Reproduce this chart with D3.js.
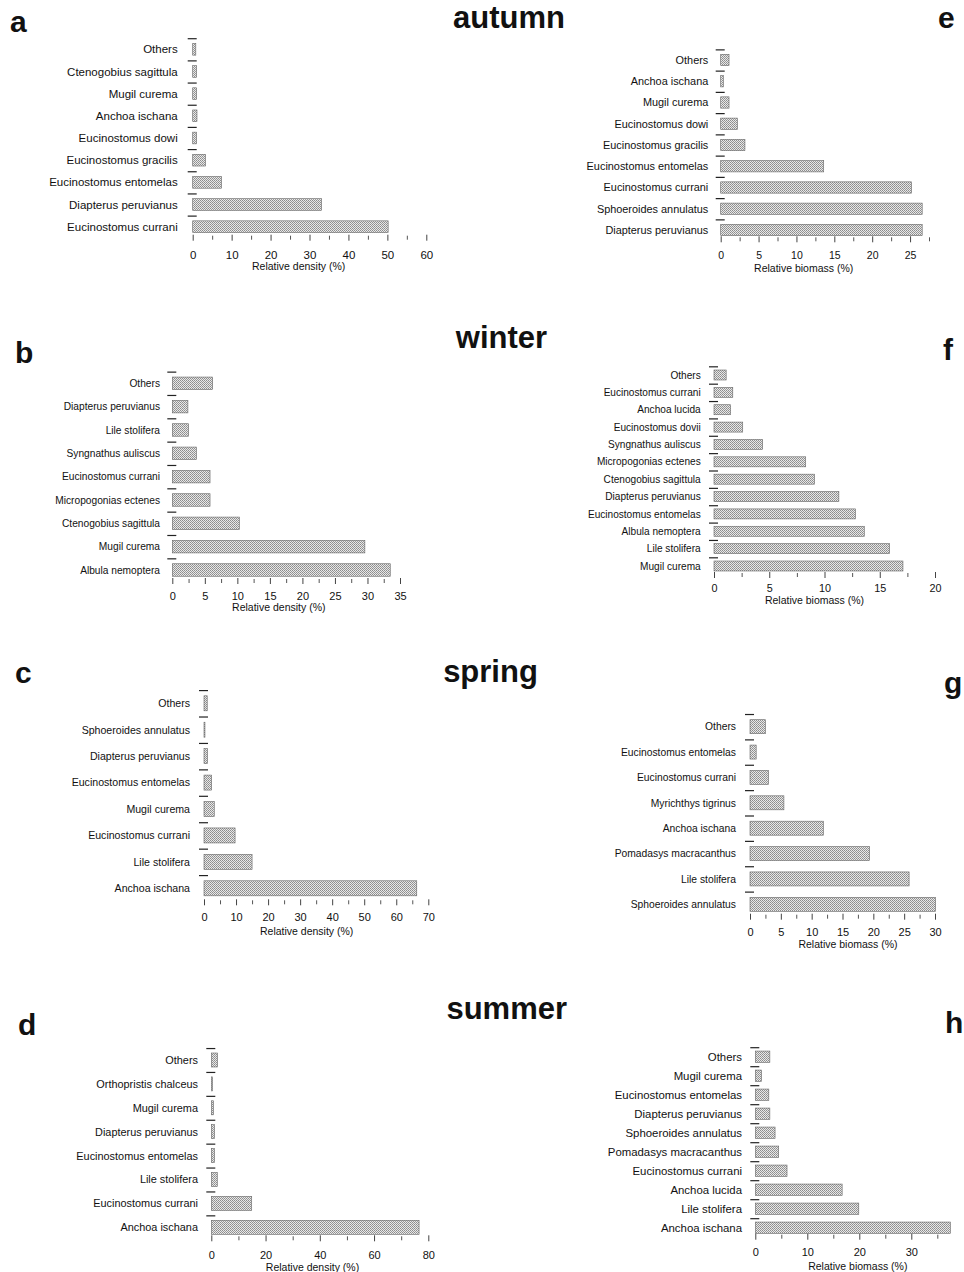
<!DOCTYPE html>
<html>
<head>
<meta charset="utf-8">
<script src="https://cdn.jsdelivr.net/npm/d3@7/dist/d3.min.js"></script>
<style>
  html, body { margin: 0; padding: 0; background: #fff; }
  svg { display: block; font-family: "Liberation Sans", Arial, sans-serif; }
</style>
</head>
<body>
<svg id="chart" width="964" height="1272"></svg>
<script>
// ---------- DATA ----------
// autumn density (a)
const catsA = ["Others","Ctenogobius sagittula","Mugil curema","Anchoa ischana","Eucinostomus dowi","Eucinostomus gracilis","Eucinostomus entomelas","Diapterus peruvianus","Eucinostomus currani"];
const valsA = [0.8, 1.0, 1.0, 1.1, 1.0, 3.3, 7.4, 33.1, 50.2];
const ticksA = [0, 10, 20, 30, 40, 50, 60];
// autumn biomass (e)
const catsE = ["Others","Anchoa ischana","Mugil curema","Eucinostomus dowi","Eucinostomus gracilis","Eucinostomus entomelas","Eucinostomus currani","Sphoeroides annulatus","Diapterus peruvianus"];
const valsE = [1.1, 0.35, 1.1, 2.2, 3.2, 13.6, 25.2, 26.6, 26.6];
const ticksE = [0, 5, 10, 15, 20, 25];
// winter density (b)
const catsB = ["Others","Diapterus peruvianus","Lile stolifera","Syngnathus auliscus","Eucinostomus currani","Micropogonias ectenes","Ctenogobius sagittula","Mugil curema","Albula nemoptera"];
const valsB = [6.2, 2.4, 2.5, 3.7, 5.8, 5.8, 10.3, 29.6, 33.5];
const ticksB = [0, 5, 10, 15, 20, 25, 30, 35];
// winter biomass (f)
const catsF = ["Others","Eucinostomus currani","Anchoa lucida","Eucinostomus dovii","Syngnathus auliscus","Micropogonias ectenes","Ctenogobius sagittula","Diapterus peruvianus","Eucinostomus entomelas","Albula nemoptera","Lile stolifera","Mugil curema"];
const valsF = [1.1, 1.7, 1.5, 2.6, 4.4, 8.3, 9.1, 11.3, 12.8, 13.6, 15.9, 17.1];
const ticksF = [0, 5, 10, 15, 20];
// spring density (c)
const catsC = ["Others","Sphoeroides annulatus","Diapterus peruvianus","Eucinostomus entomelas","Mugil curema","Eucinostomus currani","Lile stolifera","Anchoa ischana"];
const valsC = [1.0, 0.3, 1.1, 2.4, 3.2, 9.7, 15.0, 66.4];
const ticksC = [0, 10, 20, 30, 40, 50, 60, 70];
// spring biomass (g)
const catsG = ["Others","Eucinostomus entomelas","Eucinostomus currani","Myrichthys tigrinus","Anchoa ischana","Pomadasys macracanthus","Lile stolifera","Sphoeroides annulatus"];
const valsG = [2.5, 1.0, 3.0, 5.5, 11.9, 19.4, 25.8, 30.1];
const ticksG = [0, 5, 10, 15, 20, 25, 30];
// summer density (d)
const catsD = ["Others","Orthopristis chalceus","Mugil curema","Diapterus peruvianus","Eucinostomus entomelas","Lile stolifera","Eucinostomus currani","Anchoa ischana"];
const valsD = [2.3, 0.4, 0.8, 1.2, 1.2, 2.2, 14.9, 76.6];
const ticksD = [0, 20, 40, 60, 80];
// summer biomass (h)
const catsH = ["Others","Mugil curema","Eucinostomus entomelas","Diapterus peruvianus","Sphoeroides annulatus","Pomadasys macracanthus","Eucinostomus currani","Anchoa lucida","Lile stolifera","Anchoa ischana"];
const valsH = [2.8, 1.2, 2.6, 2.8, 3.8, 4.5, 6.1, 16.7, 19.9, 37.5];
const ticksH = [0, 10, 20, 30];

const seasons = ["autumn", "winter", "spring", "summer"];
const letters = ["a","b","c","d","e","f","g","h"];
const densityTitle = "Relative density (%)";
const biomassTitle = "Relative biomass (%)";

// ---------- LAYOUT ----------
const panels = [
  {cats: catsA, vals: valsA, ticks: ticksA, title: densityTitle, minor: 5,   dmax: 60,  xr: [192.7, 426.3], yc: [49.3, 226.7],   barH: 11.7, axisY: 237.7,  tickBase: 259.3,  tfs: 11.5, titleBase: 269.5,  titleX: 298.7, gap: 15,   fs: 11.5},
  {cats: catsE, vals: valsE, ticks: ticksE, title: biomassTitle, minor: 2.5, dmax: 27.5,xr: [720.7, 929.0], yc: [60, 230],       barH: 11.3, axisY: 239.3,  tickBase: 259.5,  tfs: 10.5, titleBase: 271.5,  titleX: 803.7, gap: 12.4, fs: 10.9},
  {cats: catsB, vals: valsB, ticks: ticksB, title: densityTitle, minor: 2.5, dmax: 35,  xr: [172.3, 400.0], yc: [383.3, 570],    barH: 12.5, axisY: 581,    tickBase: 599.5,  tfs: 11,   titleBase: 611,    titleX: 278.8, gap: 12.3, fs: 10.2},
  {cats: catsF, vals: valsF, ticks: ticksF, title: biomassTitle, minor: 2.5, dmax: 20,  xr: [714.0, 935.0], yc: [375, 566],      barH: 10,   axisY: 575,    tickBase: 592.2,  tfs: 10.8, titleBase: 604,    titleX: 814.5, gap: 13.3, fs: 10.1},
  {cats: catsC, vals: valsC, ticks: ticksC, title: densityTitle, minor: 5,   dmax: 70,  xr: [204.0, 428.3], yc: [703.3, 888.3],  barH: 15,   axisY: 902.3,  tickBase: 921.2,  tfs: 11,   titleBase: 934.5,  titleX: 306.7, gap: 14,   fs: 10.6},
  {cats: catsG, vals: valsG, ticks: ticksG, title: biomassTitle, minor: 2.5, dmax: 30,  xr: [750.0, 935.0], yc: [726.7, 904.3],  barH: 14,   axisY: 916.7,  tickBase: 936.2,  tfs: 11,   titleBase: 948,    titleX: 848,   gap: 14,   fs: 10.3},
  {cats: catsD, vals: valsD, ticks: ticksD, title: densityTitle, minor: 10,  dmax: 80,  xr: [211.3, 428.3], yc: [1060, 1227.3],  barH: 14,   axisY: 1238.3, tickBase: 1258.8, tfs: 11,   titleBase: 1270.8, titleX: 312.5, gap: 13.3, fs: 10.9},
  {cats: catsH, vals: valsH, ticks: ticksH, title: biomassTitle, minor: 5,   dmax: 35,  xr: [755.3, 937.3], yc: [1056.7, 1227.7], barH: 11.3, axisY: 1236.7, tickBase: 1256.2, tfs: 11,   titleBase: 1269.5, titleX: 857.8, gap: 13.3, fs: 11.4}
];
const seasonPos = [[509, 28], [501.5, 348], [490.5, 682], [506.7, 1019]];
const letterPos = [[10, 31.7], [15, 363.3], [15, 683], [18, 1035], [938, 28], [943, 360], [944, 693], [945, 1033]];

// ---------- DRAW ----------
const svg = d3.select("#chart");
const defs = svg.append("defs");
const pat = defs.append("pattern").attr("id", "stip")
  .attr("width", 2).attr("height", 2).attr("patternUnits", "userSpaceOnUse");
pat.append("rect").attr("width", 2).attr("height", 2).attr("fill", "#e8e8e8");
pat.append("rect").attr("width", 1).attr("height", 1).attr("fill", "#8c8c8c");
pat.append("rect").attr("x", 1).attr("y", 1).attr("width", 1).attr("height", 1).attr("fill", "#9a9a9a");

svg.selectAll("text.season").data(seasons).join("text")
  .attr("class", "season")
  .attr("x", (d, i) => seasonPos[i][0]).attr("y", (d, i) => seasonPos[i][1])
  .attr("text-anchor", "middle").attr("font-size", 31).attr("font-weight", "bold")
  .attr("fill", "#111").text(d => d);

svg.selectAll("text.letter").data(letters).join("text")
  .attr("class", "letter")
  .attr("x", (d, i) => letterPos[i][0]).attr("y", (d, i) => letterPos[i][1])
  .attr("font-size", 30).attr("font-weight", "bold").attr("fill", "#111").text(d => d);

panels.forEach(p => {
  const g = svg.append("g");
  const n = p.cats.length;
  const step = (p.yc[1] - p.yc[0]) / (n - 1);
  const x = d3.scaleLinear().domain([0, p.dmax]).range(p.xr);
  const y = d3.scaleBand().domain(p.cats).range([p.yc[0] - step / 2, p.yc[1] + step / 2]).padding(0);
  const bw = y.bandwidth();

  // category separator dashes
  g.selectAll("line.sep").data(p.cats).join("line")
    .attr("x1", x(0) - 5).attr("x2", x(0) + 4)
    .attr("y1", d => y(d) + 0.5).attr("y2", d => y(d) + 0.5)
    .attr("stroke", "#222").attr("stroke-width", 1.2);

  // bars
  g.selectAll("rect.bar").data(p.vals).join("rect")
    .attr("x", x(0))
    .attr("y", (d, i) => y(p.cats[i]) + (bw - p.barH) / 2)
    .attr("width", d => x(d) - x(0))
    .attr("height", p.barH)
    .attr("fill", "url(#stip)")
    .attr("stroke", "#666").attr("stroke-width", 0.6);

  // category labels
  g.selectAll("text.cat").data(p.cats).join("text")
    .attr("x", x(0) - p.gap)
    .attr("y", d => y(d) + bw / 2)
    .attr("dy", "0.36em")
    .attr("text-anchor", "end")
    .attr("font-size", p.fs).attr("fill", "#111")
    .text(d => d);

  // minor ticks
  const minors = d3.range(0, p.dmax + 1e-6, p.minor).filter(v => !p.ticks.includes(v));
  const gm = g.append("g").attr("transform", `translate(0,${p.axisY - 2})`)
    .call(d3.axisBottom(x).tickValues(minors).tickSize(4).tickFormat(""));
  gm.select(".domain").remove();
  gm.selectAll("line").attr("stroke", "#555");

  // major ticks + labels
  const ga = g.append("g").attr("transform", `translate(0,${p.axisY - 3})`)
    .call(d3.axisBottom(x).tickValues(p.ticks).tickSize(6).tickFormat(d3.format("d")));
  ga.select(".domain").remove();
  ga.selectAll("line").attr("stroke", "#444");
  ga.selectAll("text")
    .attr("y", p.tickBase - (p.axisY - 3)).attr("dy", 0)
    .attr("font-size", p.tfs).attr("font-family", "Liberation Sans, Arial, sans-serif")
    .attr("fill", "#111");

  // axis title
  g.append("text")
    .attr("x", p.titleX).attr("y", p.titleBase)
    .attr("text-anchor", "middle").attr("font-size", 10.5).attr("fill", "#111")
    .text(p.title);
});
</script>
</body>
</html>
